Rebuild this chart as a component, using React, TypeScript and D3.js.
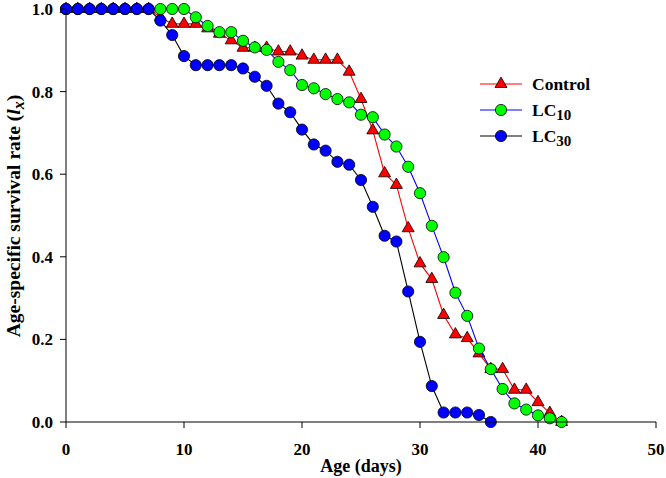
import React from "react";
import * as d3 from "d3";

// age in days (x) and lx for each treatment
const days = [0, 1, 2, 3, 4, 5, 6, 7, 8, 9, 10, 11, 12, 13, 14, 15, 16, 17, 18, 19, 20,
  21, 22, 23, 24, 25, 26, 27, 28, 29, 30, 31, 32, 33, 34, 35, 36, 37, 38, 39, 40, 41, 42];

const control = [1, 1, 1, 1, 1, 1, 1, 1, 0.98, 0.964, 0.964, 0.964, 0.953, 0.94, 0.924,
  0.906, 0.906, 0.906, 0.897, 0.897, 0.887, 0.877, 0.877, 0.877, 0.848, 0.782, 0.706,
  0.602, 0.574, 0.469, 0.384, 0.346, 0.259, 0.212, 0.203, 0.166, 0.128, 0.128, 0.078,
  0.078, 0.048, 0.022, 0];

const lc10 = [1, 1, 1, 1, 1, 1, 1, 1, 1, 1, 1, 0.98, 0.959, 0.944, 0.944, 0.923, 0.907,
  0.901, 0.872, 0.852, 0.816, 0.808, 0.794, 0.782, 0.774, 0.744, 0.738, 0.696, 0.667,
  0.618, 0.554, 0.475, 0.399, 0.313, 0.257, 0.178, 0.128, 0.08, 0.045, 0.03, 0.016,
  0.009, 0];

const lc30 = [1, 1, 1, 1, 1, 1, 1, 1, 0.972, 0.937, 0.886, 0.864, 0.864, 0.864, 0.864,
  0.856, 0.836, 0.814, 0.771, 0.75, 0.708, 0.672, 0.657, 0.63, 0.623, 0.586, 0.521,
  0.451, 0.437, 0.316, 0.194, 0.087, 0.023, 0.023, 0.023, 0.017, 0];

const xTicks = [0, 10, 20, 30, 40, 50];
const yTicks = [0, 0.2, 0.4, 0.6, 0.8, 1.0];

const series = [
  { name: "Control", sub: "", values: control, line: "#ff0000", fill: "#ff0000", shape: "triangle" },
  { name: "LC", sub: "10", values: lc10, line: "#0000ff", fill: "#00ff00", shape: "circle" },
  { name: "LC", sub: "30", values: lc30, line: "#000000", fill: "#0000ff", shape: "circle" },
];

const W = 666, H = 478;
const font = "'Liberation Serif', 'Times New Roman', serif";

export default function App() {
  const x = d3.scaleLinear().domain([0, 50]).range([66, 656]);
  const y = d3.scaleLinear().domain([0, 1]).range([422, 9]);
  const tri = d3.symbol(d3.symbolTriangle, 62)();

  const marker = (shape: string, fill: string, cx: number, cy: number, key: any) =>
    shape === "triangle" ? (
      <path key={key} d={tri!} transform={`translate(${cx},${cy})`} fill={fill} stroke="#000" strokeWidth={0.8} />
    ) : (
      <circle key={key} cx={cx} cy={cy} r={5.6} fill={fill} stroke="#000" strokeWidth={0.8} />
    );

  const legendY = [84, 110, 136];

  return (
    <svg width={W} height={H} style={{ position: "absolute", left: 0, top: 0, background: "#fff" }}
      fontFamily={font} fontWeight="bold">
      {/* series */}
      {series.map((s, si) => {
        const pts = s.values.map((v, i) => [x(days[i]), y(v)] as [number, number]);
        const path = d3.line()(pts);
        return (
          <g key={si}>
            <path d={path!} fill="none" stroke={s.line} strokeWidth={1.1} />
            {pts.map((p, i) => marker(s.shape, s.fill, p[0], p[1], i))}
          </g>
        );
      })}

      {/* axes */}
      <line x1={x(0)} x2={x(50)} y1={y(0)} y2={y(0)} stroke="#000" strokeWidth={1} />
      <line x1={x(0)} x2={x(0)} y1={y(0)} y2={y(1)} stroke="#000" strokeWidth={1} />
      {xTicks.map((t) => (
        <g key={t}>
          <line x1={x(t)} x2={x(t)} y1={y(0)} y2={y(0) + 6} stroke="#000" />
          <text x={x(t)} y={455} textAnchor="middle" fontSize={17}>{t}</text>
        </g>
      ))}
      {yTicks.map((t) => (
        <g key={t}>
          <line x1={x(0) - 6} x2={x(0)} y1={y(t)} y2={y(t)} stroke="#000" />
          <text x={53} y={y(t)} dy="0.35em" textAnchor="end" fontSize={17}>{d3.format(".1f")(t)}</text>
        </g>
      ))}
      <text x={361} y={472} textAnchor="middle" fontSize={18}>Age (days)</text>
      <text transform="translate(20,216) rotate(-90)" textAnchor="middle" fontSize={19.5}>
        Age-specific survival rate (<tspan fontStyle="italic">l</tspan>
        <tspan fontStyle="italic" dy={4} fontSize={16}>x</tspan>
        <tspan dy={-4}>)</tspan>
      </text>

      {/* legend */}
      {series.map((s, i) => (
        <g key={i}>
          <line x1={480} x2={522} y1={legendY[i]} y2={legendY[i]} stroke={s.line} strokeWidth={1.1} />
          {marker(s.shape, s.fill, 501, legendY[i], "m")}
          <text x={532} y={legendY[i] + 5.5} fontSize={17.5}>
            {s.name}
            {s.sub && <tspan dy={4} fontSize={15}>{s.sub}</tspan>}
          </text>
        </g>
      ))}
    </svg>
  );
}
